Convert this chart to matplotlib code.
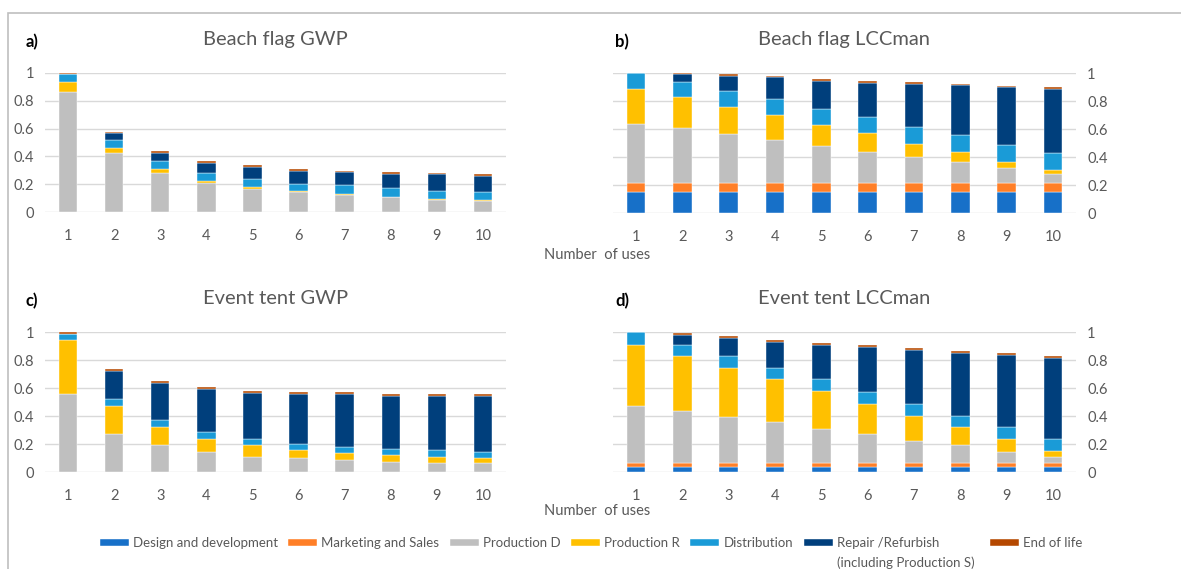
import numpy as np
import matplotlib
matplotlib.use('Agg')
import matplotlib.pyplot as plt
from matplotlib.patches import Rectangle

plt.rcParams['font.family'] = ['Lato', 'DejaVu Sans']

uses = [1, 2, 3, 4, 5, 6, 7, 8, 9, 10]

categories = ['Design and development', 'Marketing and Sales', 'Production D',
              'Production R', 'Distribution', 'Repair /Refurbish', 'End of life']
colors = ['#1770C8', '#FF7F27', '#BFBFBF', '#FFC000', '#1A9BD7', '#003F7C', '#B54800']

# a) Beach flag GWP
bf_gwp_design = [0.002] * 10
bf_gwp_market = [0.001] * 10
bf_gwp_prod_d = [0.860, 0.421, 0.280, 0.209, 0.165, 0.138, 0.119, 0.105, 0.081, 0.079]
bf_gwp_prod_r = [0.070, 0.039, 0.024, 0.012, 0.012, 0.012, 0.010, 0.003, 0.012, 0.005]
bf_gwp_distr = [0.062, 0.057, 0.062, 0.060, 0.060, 0.051, 0.060, 0.060, 0.057, 0.055]
bf_gwp_repair = [0.000, 0.046, 0.058, 0.070, 0.084, 0.089, 0.093, 0.103, 0.118, 0.120]
bf_gwp_eol = [0.007, 0.012, 0.012, 0.012, 0.012, 0.014, 0.012, 0.014, 0.012, 0.014]

# b) Beach flag LCCman
bf_lcc_design = [0.153] * 10
bf_lcc_market = [0.058] * 10
bf_lcc_prod_d = [0.427, 0.393, 0.355, 0.309, 0.271, 0.228, 0.192, 0.156, 0.110, 0.070]
bf_lcc_prod_r = [0.249, 0.223, 0.192, 0.178, 0.146, 0.132, 0.093, 0.072, 0.046, 0.026]
bf_lcc_distr = [0.113, 0.108, 0.117, 0.117, 0.118, 0.115, 0.120, 0.117, 0.117, 0.120]
bf_lcc_repair = [0.000, 0.055, 0.106, 0.154, 0.199, 0.244, 0.305, 0.355, 0.415, 0.460]
bf_lcc_eol = [0.000, 0.010, 0.012, 0.012, 0.012, 0.015, 0.012, 0.012, 0.010, 0.012]

# c) Event tent GWP
et_gwp_design = [0.002] * 10
et_gwp_market = [0.001] * 10
et_gwp_prod_d = [0.553, 0.271, 0.188, 0.143, 0.104, 0.095, 0.081, 0.069, 0.059, 0.059]
et_gwp_prod_r = [0.387, 0.201, 0.131, 0.093, 0.084, 0.057, 0.050, 0.050, 0.048, 0.036]
et_gwp_distr = [0.045, 0.050, 0.046, 0.050, 0.048, 0.048, 0.047, 0.045, 0.045, 0.045]
et_gwp_repair = [0.000, 0.196, 0.267, 0.303, 0.327, 0.351, 0.373, 0.375, 0.387, 0.399]
et_gwp_eol = [0.012, 0.012, 0.017, 0.012, 0.014, 0.014, 0.014, 0.014, 0.014, 0.014]

# d) Event tent LCCman
et_lcc_design = [0.036] * 10
et_lcc_market = [0.026] * 10
et_lcc_prod_d = [0.411, 0.375, 0.329, 0.294, 0.246, 0.212, 0.162, 0.129, 0.081, 0.045]
et_lcc_prod_r = [0.436, 0.389, 0.351, 0.305, 0.270, 0.210, 0.179, 0.131, 0.096, 0.046]
et_lcc_distr = [0.091, 0.083, 0.084, 0.084, 0.085, 0.084, 0.084, 0.081, 0.083, 0.086]
et_lcc_repair = [0.000, 0.067, 0.129, 0.181, 0.242, 0.327, 0.384, 0.447, 0.513, 0.575]
et_lcc_eol = [0.000, 0.014, 0.014, 0.017, 0.014, 0.014, 0.014, 0.012, 0.017, 0.012]

panels = [
    ('a)', 'Beach flag GWP', [bf_gwp_design, bf_gwp_market, bf_gwp_prod_d, bf_gwp_prod_r,
                              bf_gwp_distr, bf_gwp_repair, bf_gwp_eol], 'left'),
    ('b)', 'Beach flag LCCman', [bf_lcc_design, bf_lcc_market, bf_lcc_prod_d, bf_lcc_prod_r,
                                 bf_lcc_distr, bf_lcc_repair, bf_lcc_eol], 'right'),
    ('c)', 'Event tent GWP', [et_gwp_design, et_gwp_market, et_gwp_prod_d, et_gwp_prod_r,
                              et_gwp_distr, et_gwp_repair, et_gwp_eol], 'left'),
    ('d)', 'Event tent LCCman', [et_lcc_design, et_lcc_market, et_lcc_prod_d, et_lcc_prod_r,
                                 et_lcc_distr, et_lcc_repair, et_lcc_eol], 'right'),
]

W, H = 1181, 569
fig = plt.figure(figsize=(W / 100, H / 100), dpi=100)

# outer frame
fig.patches.append(Rectangle((8 / W, -0.1), 1.2, 1.1 - 13 / H, transform=fig.transFigure,
                             fill=False, edgecolor='#BFBFBF', linewidth=1.2))

# axes rectangles in pixel coords: (left, right, y_zero, y_one)
boxes = [(45, 506, 212, 73), (613, 1076, 213, 73), (45, 506, 472, 332), (613, 1076, 472, 332)]

grey = '#595959'
for (tag, title, series, side), (x0, x1, yb, yt) in zip(panels, boxes):
    ax = fig.add_axes([x0 / W, 1 - yb / H, (x1 - x0) / W, (yb - yt) / H])
    bottom = np.zeros(len(uses))
    for vals, col, lab in zip(series, colors, categories):
        ax.bar(uses, vals, 0.4, bottom=bottom, color=col, edgecolor='white',
               linewidth=0.3, label=lab, clip_on=False, zorder=3)
        bottom += np.array(vals)
    ax.set_xlim(0.5, 10.5)
    ax.set_ylim(0, 1)
    ax.set_yticks([0, 0.2, 0.4, 0.6, 0.8, 1])
    ax.set_yticklabels(['0', '0.2', '0.4', '0.6', '0.8', '1'])
    ax.set_xticks(uses)
    ax.grid(axis='y', color='#D9D9D9', linewidth=1, zorder=0)
    for s in ax.spines.values():
        s.set_visible(False)
    ax.tick_params(length=0, colors=grey, labelsize=10.5)
    ax.tick_params(axis='x', pad=12)
    ax.tick_params(axis='y', pad=8)
    if side == 'right':
        ax.yaxis.tick_right()
    ax.text(0.5, 1.0 + 34 / (yb - yt), title, transform=ax.transAxes, ha='center',
            va='center', fontsize=14.5, color=grey)
    tx = 32 if side == 'left' else 622
    fig.text(tx / W, 1 - (yt - 31) / H, tag, ha='center', va='center',
             fontsize=12, fontweight='bold', color='black')

fig.text(597 / W, 1 - 255 / H, 'Number  of uses', ha='center', va='center',
         fontsize=10.5, color=grey)
fig.text(597 / W, 1 - 511 / H, 'Number  of uses', ha='center', va='center',
         fontsize=10.5, color=grey)

handles, labels = fig.axes[0].get_legend_handles_labels()
labels = [l if l != 'Repair /Refurbish' else 'Repair /Refurbish            ' for l in labels]
leg = fig.legend(handles, labels, loc='center', bbox_to_anchor=(591 / W, 1 - 543 / H),
                 ncol=7, frameon=False, fontsize=9.5, handlelength=2.2, handleheight=0.45,
                 handletextpad=0.3, columnspacing=0.8, labelcolor=grey)

fig.canvas.draw()
bb = leg.get_texts()[5].get_window_extent()
fig.text(bb.x0 / W, (bb.y0 - 14) / H, '(including Production S)', ha='left', va='center',
         fontsize=9.5, color=grey)

fig.savefig('out.png', dpi=100)
